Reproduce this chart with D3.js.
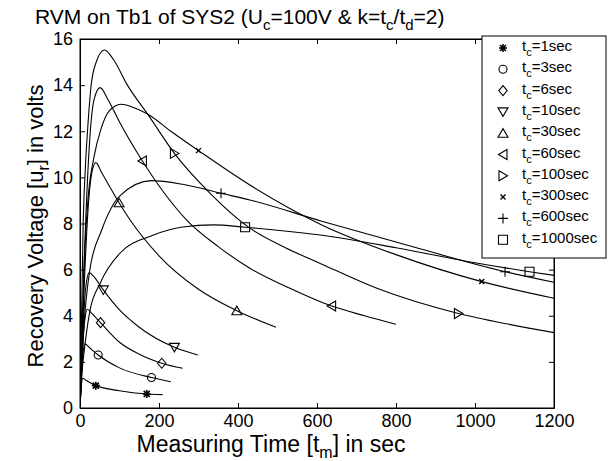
<!DOCTYPE html>
<html><head><meta charset="utf-8">
<script src="https://cdn.jsdelivr.net/npm/d3@7"></script>
<style>
body{margin:0;background:#fff}
svg{display:block}
text{font-family:"Liberation Sans",Arial,Helvetica,sans-serif;fill:#000}
</style>
</head><body>
<svg id="chart" width="608" height="461"></svg>
<script>
// ---------- data ----------
const xTicks = [0, 200, 400, 600, 800, 1000, 1200];
const yTicks = [0, 2, 4, 6, 8, 10, 12, 14, 16];
const seriesNames = ["1", "3", "6", "10", "30", "60", "100", "300", "600", "1000"];
const markerTypes = ["star", "circle", "diamond", "tdown", "tup", "tleft", "tright", "cross", "plus", "square"];

const curve_1 = [[0,0],[3,0.9],[7,1.29],[15,1.2],[40,0.97],[100,0.75],[169,0.61],[209,0.58]];
const curve_3 = [[0,0],[5,1.8],[12.7,2.78],[25,2.6],[46,2.30],[100,1.74],[181,1.32],[230,1.14]];
const curve_6 = [[0,0],[6,2.5],[12,3.8],[18.6,4.28],[30,4.1],[52,3.70],[100,2.85],[150,2.33],[207,1.94],[260,1.72]];
const curve_10 = [[0,0],[8,3.5],[15,5.3],[23.6,5.87],[35,5.7],[59,5.12],[100,4.25],[150,3.5],[239,2.63],[298,2.30]];
const curve_30 = [[0,0],[10,5],[20,8.5],[30,10.2],[40,10.64],[55,10.2],[99,8.90],[127,8.15],[200,6.6],[300,5.15],[397,4.22],[496,3.50]];
const curve_60 = [[0,0],[10,6],[22,10.9],[28,12.4],[36,13.4],[51,13.89],[70,13.4],[100,12.4],[158,10.71],[210,9.4],[270,8.15],[350,7.0],[430,6.06],[530,5.2],[637,4.42],[720,4.0],[800,3.63]];
const curve_100 = [[0,0],[8,8],[15,10.9],[19.4,12.1],[28,13.96],[40.5,14.97],[62,15.52],[85,15.1],[120,14.0],[173,12.7],[239,11.04],[330,9.3],[430,7.8],[520,6.95],[608,6.27],[750,5.2],[958,4.10],[1080,3.65],[1200,3.27]];
const curve_300 = [[0,0],[10,6],[20,9],[36,10.93],[53,12.09],[74,12.88],[104,13.17],[140,13.0],[171,12.75],[230,12.0],[300,11.16],[430,9.67],[612,7.94],[800,6.65],[1017,5.48],[1200,4.76]];
const curve_600 = [[0,0],[10,3.5],[25,6],[55,7.72],[101,9.2],[181,9.86],[260,9.7],[357,9.31],[430,9.02],[612,8.1],[800,7.2],[1076,5.91],[1200,5.45]];
const curve_1000 = [[0,0],[5,1.5],[13,2.8],[25,4.2],[51,5.41],[101,6.71],[186,7.50],[260,7.85],[337,7.94],[418,7.84],[608,7.50],[800,6.95],[1000,6.3],[1138,5.91],[1200,5.75]];

const marks_1 = [[40,0.97],[169,0.61]];
const marks_3 = [[46,2.30],[181,1.32]];
const marks_6 = [[52,3.70],[207,1.94]];
const marks_10 = [[59,5.12],[239,2.63]];
const marks_30 = [[99,8.90],[397,4.22]];
const marks_60 = [[158,10.71],[637,4.42]];
const marks_100 = [[239,11.04],[958,4.10]];
const marks_300 = [[300,11.16],[1017,5.48]];
const marks_600 = [[357,9.31],[1076,5.91]];
const marks_1000 = [[418,7.84],[1138,5.91]];

const curves = [curve_1, curve_3, curve_6, curve_10, curve_30, curve_60, curve_100, curve_300, curve_600, curve_1000];
const marks = [marks_1, marks_3, marks_6, marks_10, marks_30, marks_60, marks_100, marks_300, marks_600, marks_1000];

// ---------- layout ----------
const W = 608, H = 461;
const L = 80, R = 554, T = 39, B = 408;
const svg = d3.select("#chart");
const x = d3.scaleLinear().domain([0, 1200]).range([L, R]);
const y = d3.scaleLinear().domain([0, 16]).range([B, T]);

svg.append("rect").attr("width", W).attr("height", H).attr("fill", "#fff");

// frame
svg.append("rect").attr("x", L).attr("y", T).attr("width", R - L).attr("height", B - T)
  .attr("fill", "none").attr("stroke", "#000").attr("stroke-width", 1);

function styleAxis(g) {
  g.selectAll(".domain").attr("stroke", "#000");
  g.selectAll(".tick line").attr("stroke", "#000");
  g.selectAll(".tick text").attr("font-size", 18).attr("font-family", '"Liberation Sans",Arial,sans-serif').attr("fill", "#000");
}
const fmt = d3.format("d");
svg.append("g").attr("transform", `translate(0,${B})`)
  .call(d3.axisBottom(x).tickValues(xTicks).tickFormat(fmt).tickSizeInner(-5).tickSizeOuter(0).tickPadding(6))
  .call(styleAxis);
svg.append("g").attr("transform", `translate(${L},0)`)
  .call(d3.axisLeft(y).tickValues(yTicks).tickFormat(fmt).tickSizeInner(-5).tickSizeOuter(0).tickPadding(7))
  .call(styleAxis);
svg.append("g").attr("transform", `translate(0,${T})`)
  .call(d3.axisTop(x).tickValues(xTicks).tickSizeInner(-5).tickSizeOuter(0).tickFormat(""))
  .call(styleAxis);
svg.append("g").attr("transform", `translate(${R},0)`)
  .call(d3.axisRight(y).tickValues(yTicks).tickSizeInner(-5).tickSizeOuter(0).tickFormat(""))
  .call(styleAxis);

// curves
svg.append("clipPath").attr("id", "clip").append("rect")
  .attr("x", L).attr("y", T).attr("width", R - L).attr("height", B - T);
const line = d3.line().x(d => x(d[0])).y(d => y(d[1])).curve(d3.curveMonotoneX);
const cg = svg.append("g").attr("clip-path", "url(#clip)");
curves.forEach(c => {
  cg.append("path").attr("d", line(c)).attr("fill", "none").attr("stroke", "#000").attr("stroke-width", 1.1);
});

// markers
function markerPath(type) {
  switch (type) {
    case "star": return "M-4,0L4,0M0,-4L0,4M-3,-3L3,3M-3,3L3,-3";
    case "circle": return "M4,0A4,4 0 1,1 -4,0A4,4 0 1,1 4,0Z";
    case "diamond": return "M0,-5L4.2,0L0,5L-4.2,0Z";
    case "tdown": return "M-5,-4L5,-4L0,4.5Z";
    case "tup": return "M-5,4L5,4L0,-4.5Z";
    case "tleft": return "M4,-5L4,5L-4.5,0Z";
    case "tright": return "M-4,-5L-4,5L4.5,0Z";
    case "cross": return "M-2.5,-2.5L2.5,2.5M-2.5,2.5L2.5,-2.5";
    case "plus": return "M-5,0L5,0M0,-5L0,5";
    case "square": return "M-4.5,-4.5L4.5,-4.5L4.5,4.5L-4.5,4.5Z";
  }
}
function drawMarker(g, type, cx, cy) {
  g.append("path").attr("d", markerPath(type)).attr("transform", `translate(${cx},${cy})`)
    .attr("fill", "none").attr("stroke", "#000")
    .attr("stroke-width", type === "star" ? 1.6 : (type === "cross" ? 1.4 : 1.1));
}
const mg = svg.append("g");
marks.forEach((ms, i) => ms.forEach(p => drawMarker(mg, markerTypes[i], x(p[0]), y(p[1]))));

// rich text helper (subscripts): a part after a subscript carries the shift back
function richText(sel, parts, size, subSize, shift) {
  let pending = 0;
  parts.forEach(p => {
    const isSub = typeof p !== "string";
    const dy = isSub ? shift + pending : pending;
    sel.append("tspan").text(isSub ? p.sub : p)
      .attr("font-size", isSub ? subSize : size)
      .attr("dy", dy);
    pending = isSub ? -shift : 0;
  });
}

// title
const title = svg.append("text").attr("x", 35).attr("y", 24).attr("font-size", 21);
richText(title, ["RVM on Tb1 of SYS2 (U", {sub: "c"}, "=100V & k=t", {sub: "c"}, "/t", {sub: "d"}, "=2)"], 21, 15, 6);

// axis labels
const xl = svg.append("text").attr("x", 271).attr("y", 452).attr("text-anchor", "middle").attr("font-size", 23);
richText(xl, ["Measuring Time [t", {sub: "m"}, "] in sec"], 23, 16, 6);
const yl = svg.append("text").attr("transform", "translate(43,226) rotate(-90)").attr("text-anchor", "middle").attr("font-size", 22);
richText(yl, ["Recovery Voltage [u", {sub: "r"}, "] in volts"], 22, 16, 6);

// legend
const lg = svg.append("g");
lg.append("rect").attr("x", 482).attr("y", 36).attr("width", 124).attr("height", 222)
  .attr("fill", "#fff").attr("stroke", "#000").attr("stroke-width", 1);
seriesNames.forEach((n, i) => {
  const yy = 48 + i * 21.3;
  drawMarker(lg, markerTypes[i], 503, yy);
  const t = lg.append("text").attr("x", 522).attr("y", yy + 3).attr("font-size", 15);
  richText(t, ["t", {sub: "c"}, "=" + n + "sec"], 15, 11, 5);
});
</script>
</body></html>
